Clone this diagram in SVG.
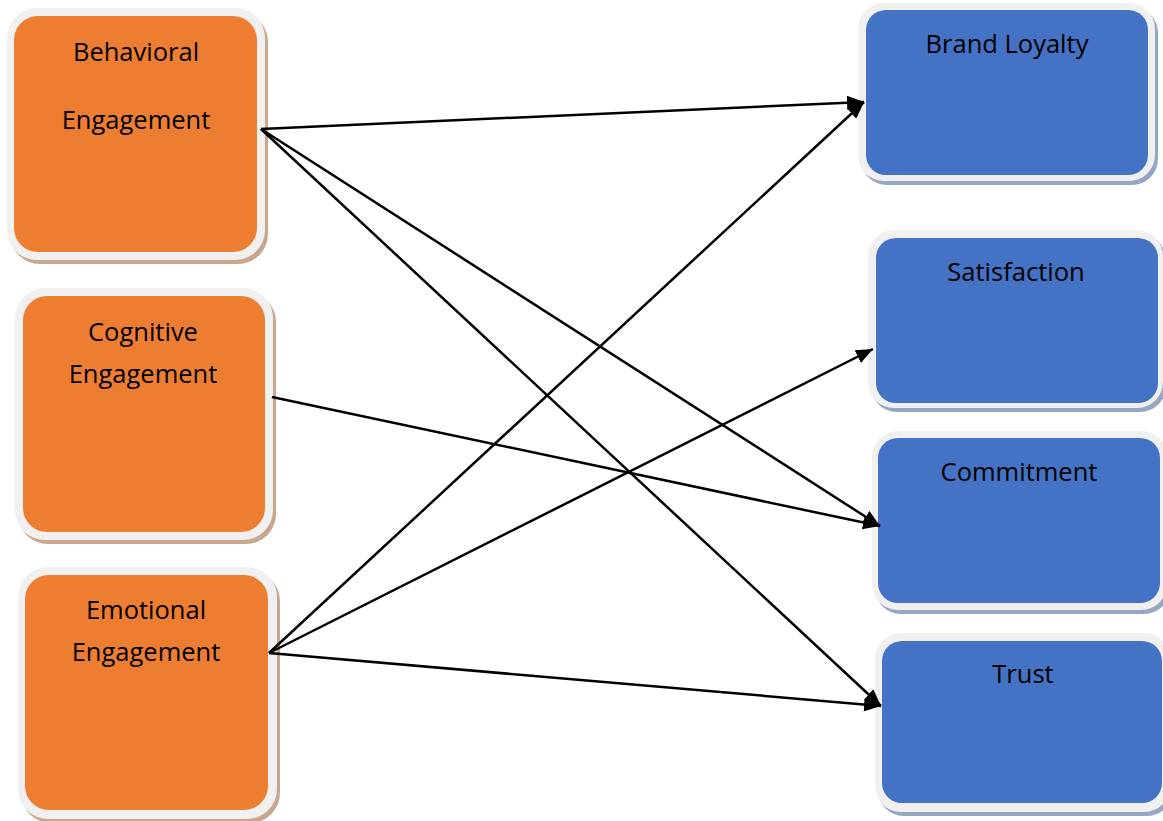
<svg xmlns="http://www.w3.org/2000/svg" width="1163" height="821" viewBox="0 0 1163 821">
<style>
.frame{fill:#f0f0f0}
.shO{fill:#c9a68e}
.shB{fill:#97a6c2}
.or{fill:#ed7d31}
.bl{fill:#4472c4}
.t{font-family:"Open Sans","Noto Sans",sans-serif;font-size:25.5px;fill:#000;text-anchor:middle}
.c{stroke:#000;stroke-width:2.5;fill:none;marker-end:url(#ah)}
</style>
<defs>
<marker id="ah" markerUnits="userSpaceOnUse" markerWidth="17" markerHeight="14" refX="17" refY="7" orient="auto">
<path d="M0,0 L17,7 L0,14 z" fill="#000"/>
</marker>
</defs>
<rect width="1163" height="821" fill="#fff"/>
<g id="behavioral">
<rect class="shO" x="10" y="12" width="258" height="252" rx="30"/>
<rect class="frame" x="7" y="8" width="258" height="252" rx="30"/>
<rect class="or" x="14" y="16" width="243" height="236" rx="24"/>
<text class="t" x="136" y="61">Behavioral</text>
<text class="t" x="136" y="129">Engagement</text>
</g>
<g id="cognitive">
<rect class="shO" x="18" y="292" width="258" height="252" rx="30"/>
<rect class="frame" x="15" y="288" width="258" height="252" rx="30"/>
<rect class="or" x="23" y="296" width="242" height="236" rx="24"/>
<text class="t" x="143" y="341">Cognitive</text>
<text class="t" x="143" y="383">Engagement</text>
</g>
<g id="emotional">
<rect class="shO" x="21" y="571" width="259" height="252" rx="30"/>
<rect class="frame" x="18" y="567" width="259" height="252" rx="30"/>
<rect class="or" x="25" y="575" width="243" height="235" rx="24"/>
<text class="t" x="146" y="619">Emotional</text>
<text class="t" x="146" y="661">Engagement</text>
</g>
<g id="brand-loyalty">
<rect class="shB" x="861" y="7" width="297" height="178" rx="26"/>
<rect class="frame" x="858" y="3" width="297" height="178" rx="26"/>
<rect class="bl" x="866" y="10" width="282" height="165" rx="20"/>
<text class="t" x="1007" y="53">Brand Loyalty</text>
</g>
<g id="satisfaction">
<rect class="shB" x="871" y="234" width="295" height="178" rx="26"/>
<rect class="frame" x="868" y="230" width="295" height="178" rx="26"/>
<rect class="bl" x="876" y="238" width="282" height="165" rx="20"/>
<text class="t" x="1016" y="281">Satisfaction</text>
</g>
<g id="commitment">
<rect class="shB" x="875" y="435" width="295" height="179" rx="26"/>
<rect class="frame" x="872" y="431" width="295" height="179" rx="26"/>
<rect class="bl" x="878" y="438" width="282" height="165" rx="20"/>
<text class="t" x="1019" y="481">Commitment</text>
</g>
<g id="trust">
<rect class="shB" x="878" y="637" width="295" height="179" rx="26"/>
<rect class="frame" x="875" y="633" width="295" height="179" rx="26"/>
<rect class="bl" x="882" y="641" width="280" height="162" rx="20"/>
<text class="t" x="1023" y="683">Trust</text>
</g>
<g id="connectors">
<line class="c" x1="261" y1="129" x2="864" y2="102"/>
<line class="c" x1="261" y1="129" x2="880" y2="526"/>
<line class="c" x1="261" y1="129" x2="881" y2="706"/>
<line class="c" x1="272" y1="397" x2="880" y2="526"/>
<line class="c" x1="269" y1="653" x2="864" y2="102"/>
<line class="c" x1="269" y1="653" x2="873" y2="349"/>
<line class="c" x1="269" y1="653" x2="881" y2="706"/>
</g>
</svg>
